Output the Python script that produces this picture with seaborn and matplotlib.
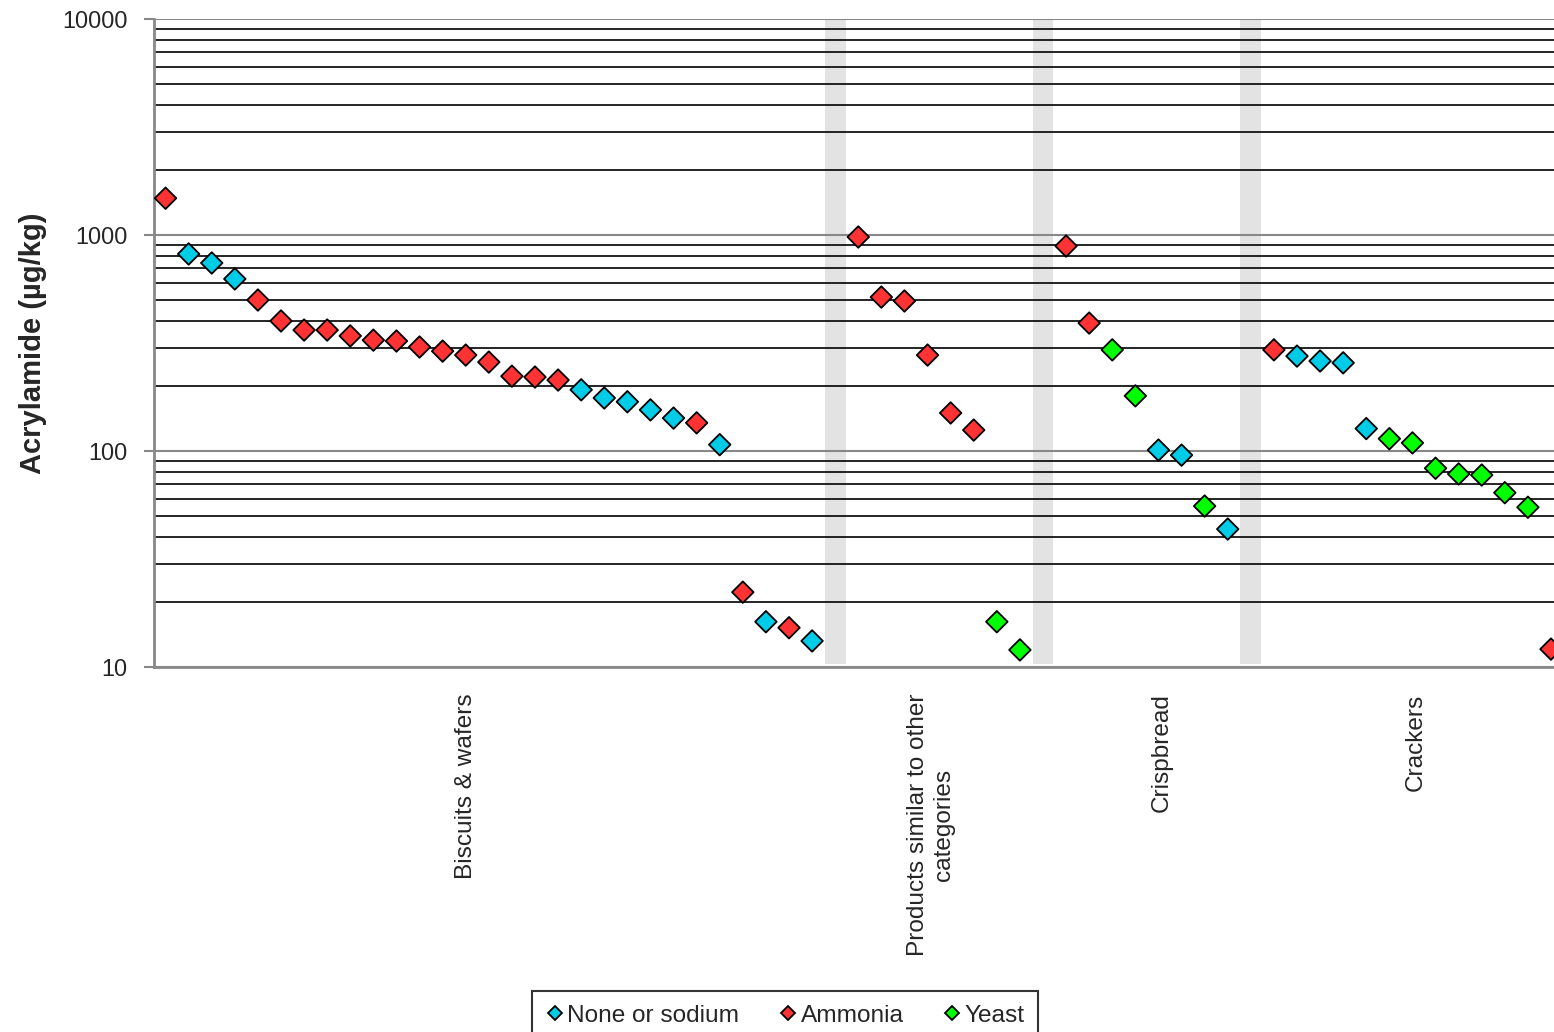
import numpy as np
import pandas as pd
import matplotlib
matplotlib.use("Agg")
import matplotlib.pyplot as plt
import seaborn as sns

# acrylamide values (ug/kg), one list per product group
biscuits = [1480, 817, 742, 626, 500, 400, 363, 363, 341, 326, 323, 303, 290,
            278, 258, 222, 220, 213, 192, 176, 169, 155, 142, 135, 107, 22.2,
            16.2, 15.2, 13.2]
biscuits_agent = ["A", "N", "N", "N", "A", "A", "A", "A", "A", "A", "A", "A",
                  "A", "A", "A", "A", "A", "A", "N", "N", "N", "N", "N", "A",
                  "N", "A", "N", "A", "N"]

similar = [979, 516, 495, 278, 150, 125, 16.2, 12.0]
similar_agent = ["A", "A", "A", "A", "A", "A", "Y", "Y"]

crispbread = [889, 391, 294, 180, 101, 95.7, 55.6, 43.5]
crispbread_agent = ["A", "A", "Y", "Y", "N", "N", "Y", "N"]

crackers = [294, 275, 261, 256, 127, 114, 109, 83.2, 78.3, 77.4, 64.1, 54.9,
            12.1]
crackers_agent = ["A", "N", "N", "N", "N", "Y", "Y", "Y", "Y", "Y", "Y", "Y",
                  "A"]

group_names = ["Biscuits & wafers", "Products similar to other\ncategories",
               "Crispbread", "Crackers"]
agent_names = {"N": "None or sodium", "A": "Ammonia", "Y": "Yeast"}
agent_order = ["None or sodium", "Ammonia", "Yeast"]
palette = {"None or sodium": "#00CCE8", "Ammonia": "#FF3333", "Yeast": "#00FF00"}

groups = [(biscuits, biscuits_agent), (similar, similar_agent),
          (crispbread, crispbread_agent), (crackers, crackers_agent)]

# lay the groups out one after another with one empty slot between them
rows = []
gaps = []
pos = 0
for gi, (vals, agents) in enumerate(groups):
    for v, a in zip(vals, agents):
        rows.append({"slot": pos, "value": v, "agent": agent_names[a]})
        pos += 1
    if gi < len(groups) - 1:
        gaps.append(pos)
        pos += 1
df = pd.DataFrame(rows)

label_pos = [13.0, 33.15, 43.15, 54.15]

sns.set_style("white")
plt.rcParams["font.family"] = ["Liberation Sans", "DejaVu Sans"]

fig = plt.figure(figsize=(15.54, 10.32), dpi=100)
ax = fig.add_axes([154 / 1554, 1 - 667 / 1032, 1400 / 1554, 648 / 1032])

for g in gaps:
    ax.axvspan(g - 0.45, g + 0.45, ymin=0.005, ymax=1, color="#E3E3E3",
               lw=0, zorder=0.1)

sns.scatterplot(data=df, x="slot", y="value", hue="agent",
                hue_order=agent_order, palette=palette, marker="D", s=120,
                edgecolor="black", linewidth=1.3, ax=ax, zorder=3,
                clip_on=False)

ax.set_yscale("log")
ax.set_ylim(10, 10000)
ax.set_xlim(-0.5, 60.13)

ax.set_yticks([10, 100, 1000, 10000])
ax.set_yticklabels(["10", "100", "1000", "10000"])
ax.yaxis.set_minor_locator(matplotlib.ticker.LogLocator(base=10, subs=np.arange(2, 10)))
ax.yaxis.set_minor_formatter(matplotlib.ticker.NullFormatter())
ax.tick_params(axis="y", which="major", direction="out", length=7, width=1.5,
               color="#888888", labelsize=16.8, pad=12, left=True)
ax.tick_params(axis="y", which="minor", length=0)
ax.grid(True, which="major", axis="y", color="#888888", lw=1.5, zorder=0.5)
ax.grid(True, which="minor", axis="y", color="black", lw=1.2, zorder=0.5)
ax.set_axisbelow(True)

ax.set_xticks(label_pos)
ax.set_xticklabels(group_names, rotation=90, fontsize=17.6, va="top",
                   ha="center", multialignment="center")
ax.tick_params(axis="x", length=0, pad=19)

for side in ["top", "right"]:
    ax.spines[side].set_visible(False)
for side in ["left", "bottom"]:
    ax.spines[side].set_color("#888888")
    ax.spines[side].set_linewidth(2)

ax.set_xlabel("")
ax.set_ylabel("Acrylamide (µg/kg)", fontsize=21, fontweight="bold", labelpad=11)

handles, labels = ax.get_legend_handles_labels()
ax.legend_.remove()
leg = fig.legend(handles, labels, loc="upper center", ncol=3,
                 bbox_to_anchor=(785 / 1554, 1 - 991 / 1032), fontsize=17.6,
                 frameon=True, fancybox=False, edgecolor="black",
                 markerscale=0.62, handletextpad=0.1, columnspacing=1.6,
                 handlelength=0.8, borderpad=0.55, borderaxespad=0)
leg.get_frame().set_linewidth(1.5)

fig.savefig("out.png", dpi=100)
